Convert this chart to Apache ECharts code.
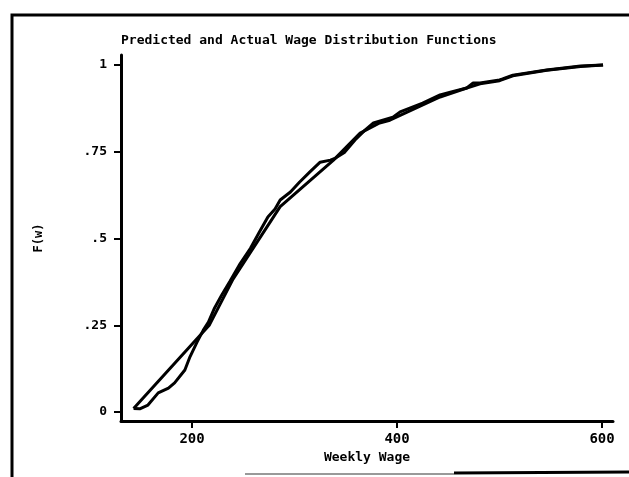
<!DOCTYPE html>
<html>
<head>
<meta charset="utf-8">
<script src="https://cdn.jsdelivr.net/npm/echarts@6/dist/echarts.min.js"></script>
<style>
html,body{margin:0;padding:0;background:#fff;}
#chart{width:629px;height:477px;}
</style>
</head>
<body>
<div id="chart"></div>
<script>
// ---- data ----
var titleText = 'Predicted and Actual Wage Distribution Functions';
var xName = 'Weekly Wage';
var yName = 'F(w)';
var xTicks = [200, 400, 600];
var yTicks = [0, 0.25, 0.5, 0.75, 1];
var yTickLabels = ['0', '.25', '.5', '.75', '1'];

var actualWage = [143, 149, 157, 167, 177, 183, 193, 198, 205, 211, 216, 222, 229, 237, 247, 257, 266, 274, 281, 286, 296, 305, 315, 325, 335, 340, 349, 359, 369, 377, 396, 403, 425, 442, 452, 468, 474, 481, 500, 503, 513, 546, 579, 601];
var actualF    = [0.01, 0.009, 0.02, 0.055, 0.069, 0.084, 0.121, 0.159, 0.202, 0.236, 0.259, 0.300, 0.337, 0.377, 0.428, 0.472, 0.52, 0.562, 0.585, 0.611, 0.634, 0.663, 0.692, 0.720, 0.726, 0.732, 0.749, 0.784, 0.813, 0.833, 0.850, 0.865, 0.890, 0.914, 0.922, 0.934, 0.948, 0.948, 0.957, 0.960, 0.971, 0.986, 0.997, 1.0];

var predWage = [143, 217, 240, 286, 338, 364, 383, 393, 442, 468, 481, 500, 513, 546, 579, 601];
var predF    = [0.01, 0.251, 0.383, 0.592, 0.726, 0.804, 0.833, 0.841, 0.908, 0.934, 0.946, 0.955, 0.969, 0.985, 0.996, 1.0];

function pairs(xs, ys){ return xs.map(function(x,i){ return [x, ys[i]]; }); }

var FONT = '"DejaVu Sans Mono", "Liberation Mono", monospace';
var chart = echarts.init(document.getElementById('chart'), null, {renderer:'canvas'});
chart.setOption({
  animation: false,
  backgroundColor: '#ffffff',
  title: {
    text: titleText,
    left: 116, top: 29,
    textStyle: {fontFamily: FONT, fontWeight: 'bold', fontSize: 13, color: '#000'}
  },
  grid: {left: 121, right: 16, top: 55, bottom: 56, containLabel: false},
  xAxis: {
    type: 'value', min: 130.7, max: 610.7,
    name: xName, nameLocation: 'middle', nameGap: 25,
    nameTextStyle: {fontFamily: FONT, fontWeight: 'bold', fontSize: 13, color: '#000'},
    axisLine: {show: true, onZero: false, lineStyle: {color: '#000', width: 3}},
    axisTick: {show: true, length: 7, customValues: xTicks, lineStyle: {color: '#000', width: 2}},
    axisLabel: {customValues: xTicks, margin: 11, fontFamily: FONT, fontWeight: 'bold', fontSize: 14, color: '#000'},
    splitLine: {show: false}
  },
  yAxis: {
    type: 'value', min: -0.026, max: 1.029,
    name: yName, nameLocation: 'middle', nameGap: 76, nameRotate: 90,
    nameTextStyle: {fontFamily: FONT, fontWeight: 'bold', fontSize: 12, color: '#000'},
    axisLine: {show: true, onZero: false, lineStyle: {color: '#000', width: 3}},
    axisTick: {show: true, length: 7, customValues: yTicks, lineStyle: {color: '#000', width: 2}},
    axisLabel: {customValues: yTicks, margin: 14, fontFamily: FONT, fontWeight: 'bold', fontSize: 13, color: '#000',
      formatter: function(v){ var i = yTicks.indexOf(v); return i >= 0 ? yTickLabels[i] : ''; }},
    splitLine: {show: false}
  },
  series: [
    {name: 'Predicted', type: 'line', data: pairs(predWage, predF), showSymbol: false, symbol: 'none',
     lineStyle: {color: '#000', width: 3}, smooth: false, z: 3},
    {name: 'Actual', type: 'line', data: pairs(actualWage, actualF), showSymbol: false, symbol: 'none',
     lineStyle: {color: '#000', width: 3}, smooth: false, z: 3}
  ],
  graphic: [
    {type: 'polyline', shape: {points: [[12, 477], [12, 15], [629, 15]]}, style: {stroke: '#000', lineWidth: 3, fill: null}},
    {type: 'line', shape: {x1: 245, y1: 474, x2: 454, y2: 474}, style: {stroke: '#999', lineWidth: 2}},
    {type: 'line', shape: {x1: 454, y1: 473, x2: 629, y2: 472}, style: {stroke: '#000', lineWidth: 3}}
  ]
});
</script>
</body>
</html>
